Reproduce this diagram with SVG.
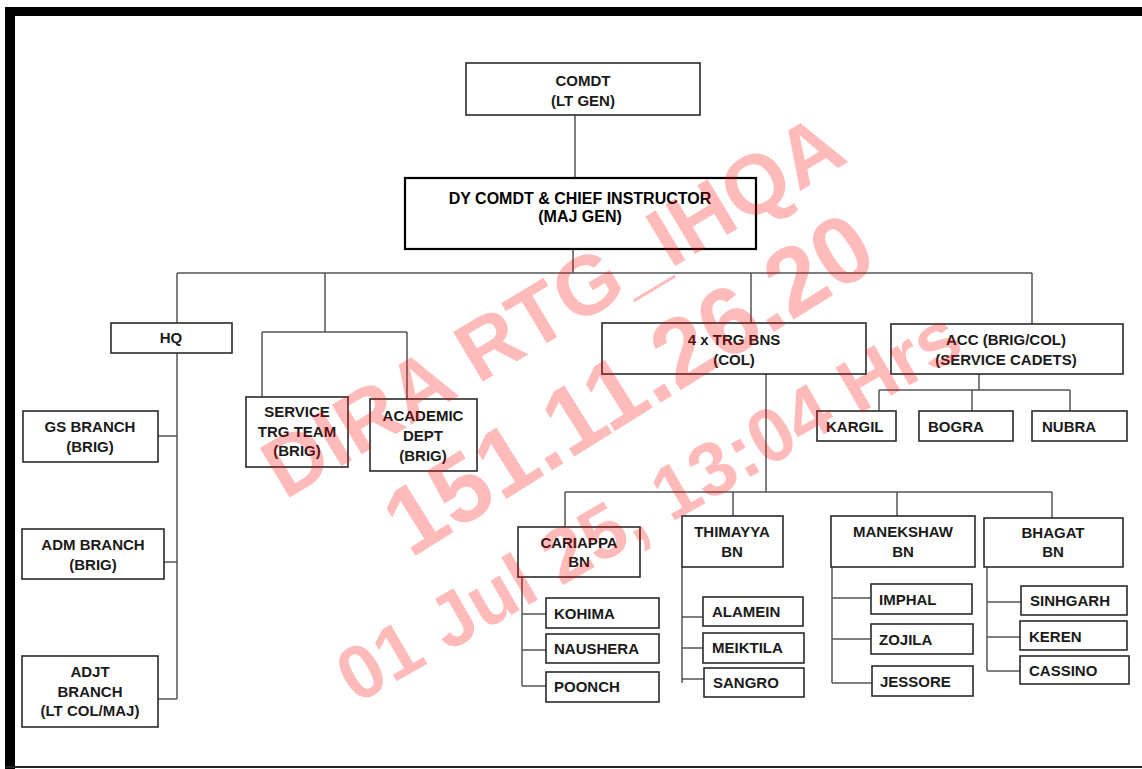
<svg xmlns="http://www.w3.org/2000/svg" width="1142" height="769" viewBox="0 0 1142 769">
<style>
.bx{fill:#fff;stroke:#2a2a2a;stroke-width:1.6}
.bx2{fill:#fff;stroke:#000;stroke-width:2.2}
.t{font-family:"Liberation Sans",Arial,sans-serif;font-weight:bold;font-size:15px;fill:#1a1a1a;text-anchor:middle}
.tl{font-family:"Liberation Sans",Arial,sans-serif;font-weight:bold;font-size:15px;fill:#1a1a1a}
.td{font-family:"Liberation Sans",Arial,sans-serif;font-weight:bold;font-size:16px;fill:#000;text-anchor:middle}
.c{fill:none;stroke:#555;stroke-width:1.5}
.wm{font-family:"Liberation Sans",Arial,sans-serif;font-weight:bold;fill:#ff0000;fill-opacity:0.27;text-anchor:middle}
</style>
<rect x="0" y="0" width="1142" height="769" fill="#fff"/>
<rect x="5" y="7" width="1137" height="9" fill="#000"/>
<rect x="5" y="7" width="10" height="762" fill="#000"/>
<line x1="5" y1="767" x2="1142" y2="767" stroke="#222" stroke-width="2"/>
<g id="connectors">
<path class="c" d="M575 115V178M573 249V273M177 273H1032M177 273V323M325 273V332M262 332H407M262 332V397M407 332V399M751 273V323M1032 273V324"/>
<path class="c" d="M177 353V699M158 436H177M164 562H177M158 699H177"/>
<path class="c" d="M979 374V390M879 390H1070M879 390V411M972 390V411M1070 390V411"/>
<path class="c" d="M766 374V492M565 492H1052M565 492V527M733 492V516M897 492V516M1052 492V518"/>
<path class="c" d="M522 577V686M522 614H546M522 650H546M522 686H546"/>
<path class="c" d="M682 567V683M682 617H703M682 648H703M682 679H704"/>
<path class="c" d="M832 567V683M832 598H871M832 639H871M832 683H872"/>
<path class="c" d="M987 567V671M987 602H1021M987 637H1020M987 671H1020"/>
</g>
<g id="comdt"><rect class="bx" x="466" y="63" width="234" height="52"/><text class="t" x="583" y="86">COMDT</text><text class="t" x="583" y="106">(LT GEN)</text></g>
<g id="dycomdt"><rect class="bx2" x="405" y="178" width="351" height="71"/><text class="td" x="580" y="204">DY COMDT &amp; CHIEF INSTRUCTOR</text><text class="td" x="580" y="222">(MAJ GEN)</text></g>
<g id="hq"><rect class="bx" x="111" y="323" width="121" height="30"/><text class="t" x="171" y="343">HQ</text></g>
<g id="gs"><rect class="bx" x="23" y="411" width="135" height="51"/><text class="t" x="90" y="432">GS BRANCH</text><text class="t" x="90" y="452">(BRIG)</text></g>
<g id="adm"><rect class="bx" x="22" y="529" width="142" height="50"/><text class="t" x="93" y="550">ADM BRANCH</text><text class="t" x="93" y="570">(BRIG)</text></g>
<g id="adjt"><rect class="bx" x="22" y="656" width="136" height="71"/><text class="t" x="90" y="677">ADJT</text><text class="t" x="90" y="697">BRANCH</text><text class="t" x="90" y="716">(LT COL/MAJ)</text></g>
<g id="stt"><rect class="bx" x="246" y="397" width="102" height="70"/><text class="t" x="297" y="417">SERVICE</text><text class="t" x="297" y="437">TRG TEAM</text><text class="t" x="297" y="456">(BRIG)</text></g>
<g id="acad"><rect class="bx" x="370" y="399" width="107" height="72"/><text class="t" x="423" y="421">ACADEMIC</text><text class="t" x="423" y="441">DEPT</text><text class="t" x="423" y="461">(BRIG)</text></g>
<g id="trgbns"><rect class="bx" x="602" y="323" width="264" height="51"/><text class="t" x="734" y="345">4 x TRG BNS</text><text class="t" x="734" y="365">(COL)</text></g>
<g id="acc"><rect class="bx" x="891" y="324" width="232" height="50"/><text class="t" x="1006" y="345">ACC (BRIG/COL)</text><text class="t" x="1006" y="365">(SERVICE CADETS)</text></g>
<g id="kargil"><rect class="bx" x="817" y="411" width="79" height="30"/><text class="tl" x="826" y="432">KARGIL</text></g>
<g id="bogra"><rect class="bx" x="919" y="411" width="94" height="30"/><text class="tl" x="928" y="432">BOGRA</text></g>
<g id="nubra"><rect class="bx" x="1032" y="411" width="95" height="30"/><text class="tl" x="1042" y="432">NUBRA</text></g>
<g id="cariappa"><rect class="bx" x="518" y="527" width="122" height="50"/><text class="t" x="579" y="548">CARIAPPA</text><text class="t" x="579" y="567">BN</text></g>
<g id="thimayya"><rect class="bx" x="682" y="516" width="101" height="51"/><text class="t" x="732" y="537">THIMAYYA</text><text class="t" x="732" y="557">BN</text></g>
<g id="manekshaw"><rect class="bx" x="831" y="516" width="144" height="51"/><text class="t" x="903" y="537">MANEKSHAW</text><text class="t" x="903" y="557">BN</text></g>
<g id="bhagat"><rect class="bx" x="984" y="518" width="139" height="49"/><text class="t" x="1053" y="538">BHAGAT</text><text class="t" x="1053" y="557">BN</text></g>
<g id="kohima"><rect class="bx" x="546" y="598" width="113" height="30"/><text class="tl" x="554" y="619">KOHIMA</text></g>
<g id="naushera"><rect class="bx" x="546" y="634" width="113" height="29"/><text class="tl" x="554" y="654">NAUSHERA</text></g>
<g id="poonch"><rect class="bx" x="546" y="672" width="113" height="30"/><text class="tl" x="554" y="692">POONCH</text></g>
<g id="alamein"><rect class="bx" x="703" y="597" width="100" height="29"/><text class="tl" x="712" y="617">ALAMEIN</text></g>
<g id="meiktila"><rect class="bx" x="703" y="633" width="101" height="30"/><text class="tl" x="712" y="653">MEIKTILA</text></g>
<g id="sangro"><rect class="bx" x="704" y="668" width="100" height="29"/><text class="tl" x="713" y="688">SANGRO</text></g>
<g id="imphal"><rect class="bx" x="871" y="584" width="101" height="30"/><text class="tl" x="879" y="605">IMPHAL</text></g>
<g id="zojila"><rect class="bx" x="871" y="624" width="102" height="30"/><text class="tl" x="879" y="645">ZOJILA</text></g>
<g id="jessore"><rect class="bx" x="872" y="666" width="101" height="30"/><text class="tl" x="880" y="687">JESSORE</text></g>
<g id="sinhgarh"><rect class="bx" x="1021" y="586" width="106" height="29"/><text class="tl" x="1030" y="606">SINHGARH</text></g>
<g id="keren"><rect class="bx" x="1020" y="621" width="107" height="29"/><text class="tl" x="1029" y="642">KEREN</text></g>
<g id="cassino"><rect class="bx" x="1020" y="656" width="109" height="28"/><text class="tl" x="1029" y="676">CASSINO</text></g>
<g id="watermark">
<text class="wm" font-size="84" transform="translate(552,305) rotate(-31)" y="30">DIRA RTG_IHQA</text>
<text class="wm" font-size="96" transform="translate(628,383) rotate(-32)" y="34">151.11.26.20</text>
<text class="wm" font-size="76" transform="translate(648,505) rotate(-30)" y="27">01 Jul 25, 13:04 Hrs</text>
</g>
</svg>
